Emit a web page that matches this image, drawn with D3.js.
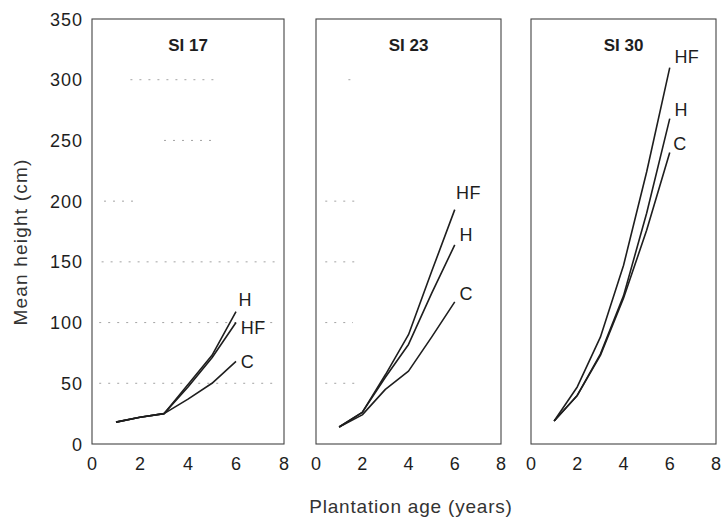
<!DOCTYPE html>
<html lang="en">
<head>
  <meta charset="UTF-8">
  <title>Mean height by plantation age</title>
  <style>
  body { margin: 0; background: #fff; }
  svg { display: block; font-family: "Liberation Sans", Arial, sans-serif; }
  .frame { fill: none; stroke: #444; stroke-width: 1.1; }
  .curve { fill: none; stroke: #1e1e1e; stroke-width: 1.6; stroke-linejoin: round; }
  .grid { stroke: #999; stroke-width: 0.9; stroke-dasharray: 2 7; }
  .tick { font-size: 18px; fill: #1e1e1e; letter-spacing: 1px; }
  .lab { font-size: 18px; fill: #1e1e1e; letter-spacing: 0.5px; }
  .title { font-size: 17px; fill: #1e1e1e; font-weight: bold; }
  .axis-title { font-size: 19px; fill: #333; }
  </style>
</head>
<body>
<svg id="chart" width="721" height="519"></svg>
<script src="https://d3js.org/d3.v7.min.js"></script>
<script>
// values
const ages = [1, 2, 3, 4, 5, 6];
const panels = ["SI 17", "SI 23", "SI 30"];
const treatments = ["HF", "H", "C"];

const si17 = {
  HF: [18, 22, 25, 47, 71, 100],
  H:  [18, 22, 25, 49, 73, 109],
  C:  [18, 22, 25, 37, 50, 68]
};
const si23 = {
  HF: [14, 26, 57, 90, 142, 193],
  H:  [14, 26, 55, 82, 124, 164],
  C:  [14, 24, 45, 60, 88, 117]
};
const si30 = {
  HF: [19, 47, 88, 147, 224, 310],
  H:  [19, 40, 74, 122, 190, 268],
  C:  [19, 40, 73, 120, 176, 240]
};
const series = [si17, si23, si30];

// curve end labels, in data units [age, height]
const labels17 = { H: [6.1, 114], HF: [6.2, 91], C: [6.2, 63] };
const labels23 = { HF: [6.05, 202], H: [6.2, 167], C: [6.2, 119] };
const labels30 = { HF: [6.2, 314], H: [6.2, 270], C: [6.15, 242] };
const curveLabels = [labels17, labels23, labels30];

const xTicks = [0, 2, 4, 6, 8];
const yTicks = [0, 50, 100, 150, 200, 250, 300, 350];

// faint broken gridlines left by the scan: [panel, height, from age, to age]
const gridBits = [
  [0, 50, 0.3, 7.6], [0, 100, 0.3, 7.8], [0, 150, 0.4, 7.8],
  [0, 200, 0.5, 1.8], [0, 250, 3.0, 5.0], [0, 300, 1.6, 5.1],
  [1, 50, 0.4, 1.8], [1, 100, 0.4, 1.6], [1, 150, 0.4, 1.7],
  [1, 200, 0.4, 1.9], [1, 300, 1.4, 1.6]
];

// layout
const panelLeft = [92, 316, 531];
const panelWidth = [192, 185, 185];
const plotTop = 19, plotBottom = 444;

const svg = d3.select("#chart");

const y = d3.scaleLinear().domain([0, 350]).range([plotBottom, plotTop]);
const xScales = panels.map((_, i) =>
  d3.scaleLinear().domain([0, 8]).range([panelLeft[i], panelLeft[i] + panelWidth[i]]));

const line = d3.line();

svg.selectAll(".grid")
  .data(gridBits)
  .enter().append("line")
  .attr("class", "grid")
  .attr("x1", d => xScales[d[0]](d[2]))
  .attr("x2", d => xScales[d[0]](d[3]))
  .attr("y1", d => y(d[1]))
  .attr("y2", d => y(d[1]));

panels.forEach((name, i) => {
  const x = xScales[i];
  const g = svg.append("g");

  g.append("rect")
    .attr("class", "frame")
    .attr("x", x(0)).attr("y", y(350))
    .attr("width", x(8) - x(0)).attr("height", y(0) - y(350));

  g.append("text")
    .attr("class", "title")
    .attr("x", x(4)).attr("y", y(324))
    .attr("text-anchor", "middle")
    .text(name);

  treatments.forEach(t => {
    const vals = series[i][t];
    g.append("path")
      .attr("class", "curve")
      .attr("d", line(ages.map((a, k) => [x(a), y(vals[k])])));
    const lp = curveLabels[i][t];
    g.append("text")
      .attr("class", "lab")
      .attr("x", x(lp[0])).attr("y", y(lp[1]))
      .text(t);
  });

  g.selectAll(".xt")
    .data(xTicks)
    .enter().append("text")
    .attr("class", "tick")
    .attr("x", d => x(d) + 0.5).attr("y", plotBottom + 26)
    .attr("text-anchor", "middle")
    .text(d => d);
});

// y tick labels on the first panel only
svg.selectAll(".yt")
  .data(yTicks)
  .enter().append("text")
  .attr("class", "tick")
  .attr("x", 83).attr("y", d => y(d) + 6.5)
  .attr("text-anchor", "end")
  .text(d => d);

svg.append("text")
  .attr("class", "axis-title")
  .attr("transform", "translate(27,242) rotate(-90)")
  .attr("text-anchor", "middle")
  .style("letter-spacing", "1.2px")
  .text("Mean height (cm)");

svg.append("text")
  .attr("class", "axis-title")
  .attr("x", 411).attr("y", 513)
  .attr("text-anchor", "middle")
  .style("letter-spacing", "0.8px")
  .text("Plantation age (years)");
</script>
</body>
</html>
